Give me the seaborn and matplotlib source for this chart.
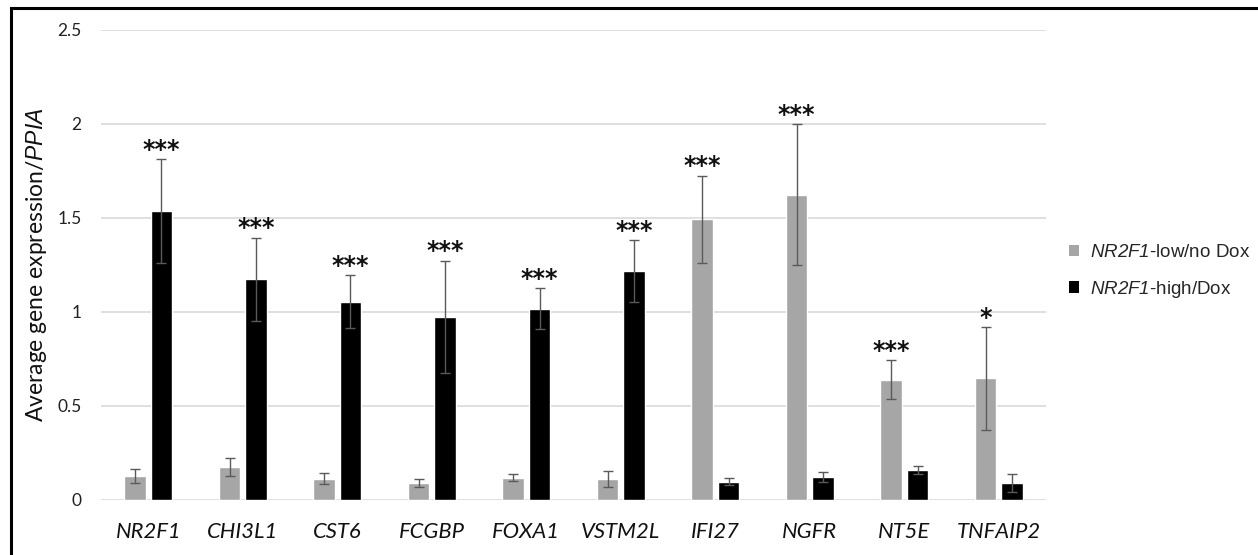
import matplotlib
matplotlib.use("Agg")
import matplotlib.pyplot as plt
import seaborn as sns
import pandas as pd
import numpy as np
from matplotlib.patches import Patch, Rectangle

# Genes and the two conditions
genes = ["NR2F1", "CHI3L1", "CST6", "FCGBP", "FOXA1", "VSTM2L",
         "IFI27", "NGFR", "NT5E", "TNFAIP2"]
conditions = ["NR2F1-low/no Dox", "NR2F1-high/Dox"]

# Mean expression relative to PPIA
low_mean = [0.128, 0.173, 0.112, 0.090, 0.117, 0.112, 1.492, 1.623, 0.639, 0.646]
high_mean = [1.537, 1.173, 1.054, 0.974, 1.017, 1.217, 0.096, 0.120, 0.157, 0.091]

# Error bar half-widths
low_err = [0.038, 0.049, 0.028, 0.020, 0.019, 0.042, 0.233, 0.375, 0.104, 0.274]
high_err = [0.277, 0.222, 0.141, 0.298, 0.108, 0.163, 0.018, 0.027, 0.020, 0.048]

# Significance marks, placed over the higher-expressed condition
stars = ["***", "***", "***", "***", "***", "***", "***", "***", "***", "*"]
star_on = ["high", "high", "high", "high", "high", "high", "low", "low", "low", "low"]

yticks = [0, 0.5, 1, 1.5, 2, 2.5]
ytick_labels = ["0", "0.5", "1", "1.5", "2", "2.5"]

sns.set_theme(style="white")
plt.rcParams["font.family"] = ["Lato", "DejaVu Sans"]
plt.rcParams["mathtext.fontset"] = "custom"
plt.rcParams["mathtext.it"] = "Liberation Sans:italic"
plt.rcParams["mathtext.rm"] = "Liberation Sans:italic"

df = pd.DataFrame({
    "gene": genes * 2,
    "condition": [conditions[0]] * len(genes) + [conditions[1]] * len(genes),
    "value": low_mean + high_mean,
})

palette = {conditions[0]: "#a6a6a6", conditions[1]: "#000000"}

fig = plt.figure(figsize=(12.58, 5.55), dpi=100)
ax = fig.add_axes([0.0803, 0.0996, 0.7512, 0.8465])

sns.barplot(data=df, x="gene", y="value", hue="condition", order=genes,
            hue_order=conditions, palette=palette, errorbar=None,
            width=0.56, gap=0.18, saturation=1, legend=False, ax=ax,
            zorder=2)

err_color = "#5a5a5a"
tops = {"low": [], "high": []}
for key, cont, errs in [("low", ax.containers[0], low_err),
                        ("high", ax.containers[1], high_err)]:
    xs = [b.get_x() + b.get_width() / 2 for b in cont]
    hs = [b.get_height() for b in cont]
    ax.errorbar(xs, hs, yerr=errs, fmt="none", ecolor=err_color,
                elinewidth=1.0, capsize=3.5, capthick=1.0, zorder=3)
    tops[key] = [(x, h + e) for x, h, e in zip(xs, hs, errs)]

for i, (s, which) in enumerate(zip(stars, star_on)):
    x, y = tops[which][i]
    ax.annotate(s, (x, y), xytext=(0, -2), textcoords="offset points",
                ha="center", va="bottom", fontsize=17, fontweight="bold",
                family="DejaVu Sans", color="#111111")

ax.set_ylim(0, 2.5)
ax.set_xlim(-0.5, len(genes) - 0.5)
ax.set_yticks(yticks)
ax.set_yticklabels(ytick_labels)
ax.yaxis.grid(True, color="#d9d9d9", linewidth=1.2, zorder=0)
ax.set_axisbelow(True)
for sp in ax.spines.values():
    sp.set_visible(False)
ax.tick_params(axis="y", length=0, pad=14, labelsize=12.5, labelcolor="#222222")
ax.tick_params(axis="x", length=0, pad=16, labelsize=15.8)
for lab in ax.get_xticklabels():
    lab.set_fontstyle("italic")
    lab.set_color("#111111")
ax.set_xlabel("")
ax.set_ylabel(r"Average gene expression/$\mathit{PPIA}$", fontsize=16.5,
              labelpad=6, color="#111111")

handles = [Patch(facecolor=palette[c], edgecolor="none") for c in conditions]
labels = [r"$\mathit{NR2F1}$-low/no Dox", r"$\mathit{NR2F1}$-high/Dox"]
fig.legend(handles, labels, loc="center left", bbox_to_anchor=(0.836, 0.51),
           frameon=False, handlelength=0.55, handleheight=0.55, handletextpad=0.6,
           labelspacing=0.92, prop={"family": "Liberation Sans", "size": 13.5})

# Outer frame around the figure (left and top edges visible)
fig.patches.append(Rectangle((11 / 1258, -0.1), 1.2, 1 - 8 / 555 + 0.1,
                             transform=fig.transFigure, fill=False,
                             edgecolor="#000000", linewidth=2.2))

fig.savefig("out.png", dpi=100)
